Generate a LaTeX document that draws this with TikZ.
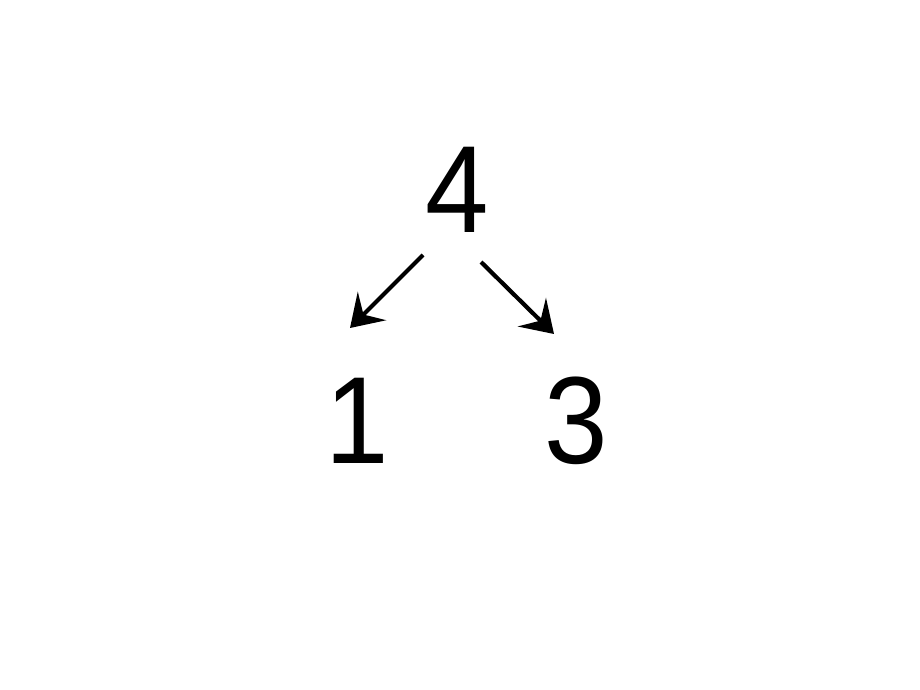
\documentclass[tikz,border=0pt]{standalone}
\usepackage{fontspec}
\setmainfont{Liberation Sans}
\usetikzlibrary{arrows.meta}
\newcommand{\squeezed}[1]{\scalebox{0.92}[1]{#1}}
\begin{document}
\begin{tikzpicture}[x=1pt, y=-1pt]
  \useasboundingbox (0,0) rectangle (920,690);
  % Tree
  \begin{scope}[every edge/.append style={line width=4.2pt, -{Stealth[length=31pt, width=40pt, inset=12pt]}}]

    \begin{scope}[every node/.style={inner sep=0pt, font=\fontsize{124}{124}\selectfont}]

    \node (n4) at (457,190) {\squeezed{4}};
    \node (n1) at (357,421) {\squeezed{1}};
    \node (n3) at (576,421) {\squeezed{3}};

    \end{scope}

    \coordinate (s1) at (423,255);
    \coordinate (e1) at (350,328);
    \coordinate (s3) at (481,262);
    \coordinate (e3) at (554,334);

    % Branches
    \draw (s1) edge (e1);
    \draw (s3) edge (e3);

  \end{scope}
\end{tikzpicture}
\end{document}
